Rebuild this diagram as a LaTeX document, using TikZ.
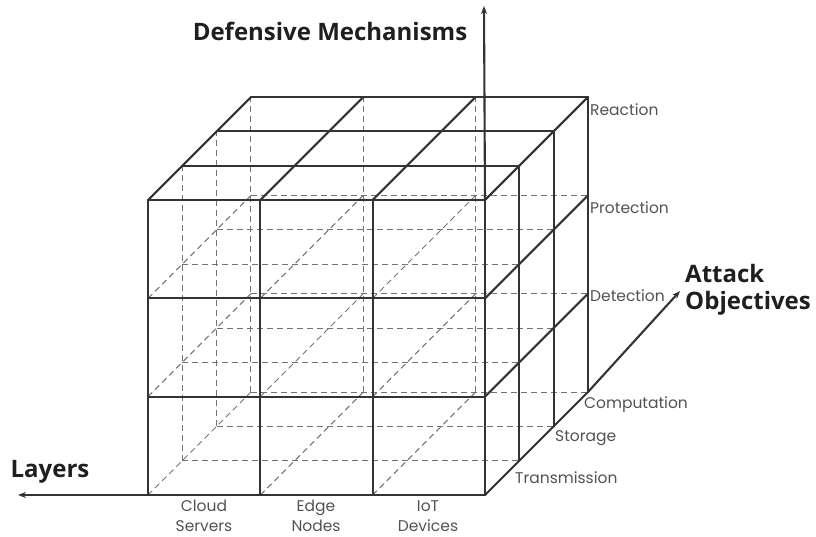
\documentclass[tikz,border=0pt]{standalone}
\usepackage{fontspec}
\setmainfont{Poppins}
\newfontfamily\boldlab{Open Sans}
\usetikzlibrary{arrows.meta}
\begin{document}
\begin{tikzpicture}[x=1pt,y=-1pt,
  solidl/.style={line width=2.1pt, draw=black!80, line cap=round},
  hid/.style={line width=1pt, draw=black!55, dash pattern=on 6pt off 4pt},
  axis/.style={line width=2.1pt, draw=black!80, -{Stealth[length=8pt,width=6pt]}},
  small/.style={font=\fontsize{15.5}{18}\selectfont, text=black!68, inner sep=0pt},
  big/.style={font=\boldlab\bfseries\fontsize{24}{28}\selectfont, text=black!88, inner sep=0pt}]
\useasboundingbox (0,0) rectangle (816,536);
\begin{scope}[shift={(148,495)}, x={(112.33pt,0pt)}, y={(0pt,98.33pt)}, z={(34.3pt,34.3pt)}]
\foreach \i in {0,...,3}{\foreach \j in {0,...,3}{\foreach \k in {0,...,3}{\coordinate (p\i\j\k) at (\i,\j,\k);}}}
% hidden lines
\foreach \k in {1,2,3}{\foreach \j in {0,1,2}{\draw[hid] (p0\j\k) -- (p3\j\k);}}
\foreach \k in {1,2,3}{\draw[hid] (p00\k) -- (p03\k);}
\foreach \i in {1,2}{\draw[hid] (p\i03) -- (p\i33);}
\foreach \i in {0,1,2}{\foreach \j in {0,1,2}{\draw[hid] (p\i\j0) -- (p\i\j3);}}
% front face
\foreach \j in {0,...,3}{\draw[solidl] (p0\j0) -- (p3\j0);}
\foreach \i in {0,...,3}{\draw[solidl] (p\i00) -- (p\i30);}
% top face
\foreach \k in {1,2,3}{\draw[solidl] (p03\k) -- (p33\k);}
\foreach \i in {0,...,3}{\draw[solidl] (p\i30) -- (p\i33);}
% right face
\foreach \k in {1,2,3}{\draw[solidl] (p30\k) -- (p33\k);}
\foreach \j in {0,...,3}{\draw[solidl] (p3\j0) -- (p3\j3);}
\end{scope}
% axes
\coordinate (ytip) at (484,6);
\coordinate (xtip) at (18,495);
\coordinate (ztip) at (680,291);
\draw[axis] (p330) -- (ytip);
\draw[axis] (p000) -- (xtip);
\draw[axis] (p303) -- (ztip);
% axis titles
\node[big] (tdef) at (330,31) {Defensive Mechanisms};
\node[big] (tlay) at (50,472) {Layers};
\node[big, anchor=west] (tatt) at (685,273) {Attack};
\node[big, anchor=west] (tobj) at (685,303) {Objectives};
% defense labels
\node[small, anchor=west] (lrea) at (590,110) {Reaction};
\node[small, anchor=west] (lpro) at (590,208) {Protection};
\node[small, anchor=west] (ldet) at (590,296) {Detection};
% attack labels
\node[small, anchor=west] (lcom) at (584,405) {Computation};
\node[small, anchor=west] (lsto) at (555,438) {Storage};
\node[small, anchor=west] (ltra) at (515,478) {Transmission};
% layer labels
\node[small, align=center, font=\fontsize{15.5}{20}\selectfont] (lclo) at (204,516) {Cloud\\Servers};
\node[small, align=center, font=\fontsize{15.5}{20}\selectfont] (ledg) at (316,516) {Edge\\Nodes};
\node[small, align=center, font=\fontsize{15.5}{20}\selectfont] (liot) at (428,516) {IoT\\Devices};
\end{tikzpicture}
\end{document}
